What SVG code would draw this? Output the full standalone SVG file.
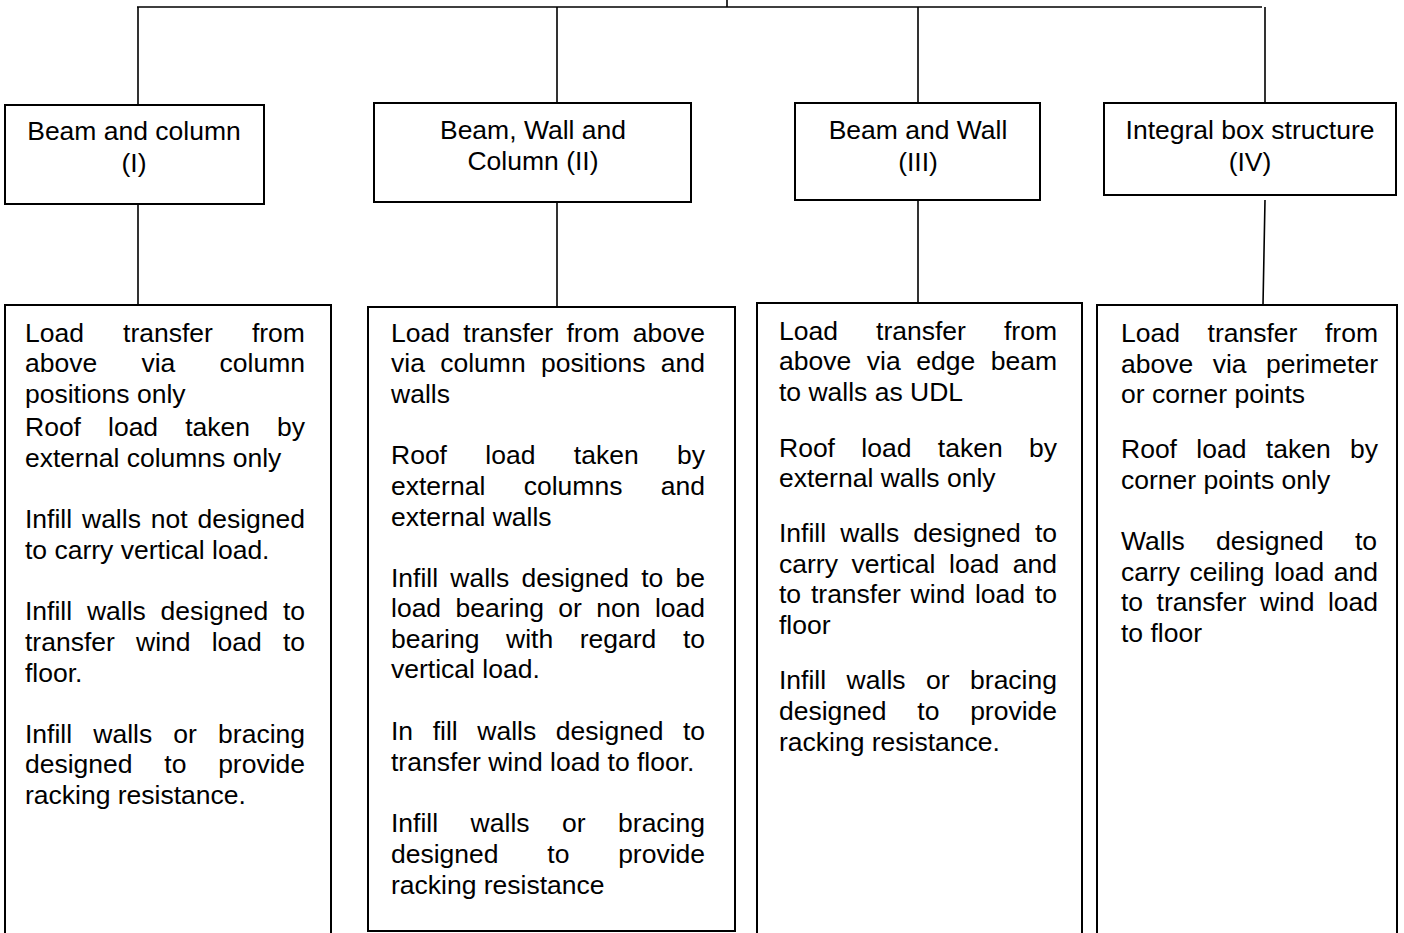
<svg xmlns="http://www.w3.org/2000/svg" width="1404" height="933" viewBox="0 0 1404 933">
<style>
.bg{fill:#fff}
.box{fill:#fff;stroke:#000;stroke-width:2}
.ln{fill:none;stroke:#000;stroke-width:1.6}
text{font-family:"Liberation Sans",Arial,sans-serif;font-size:26.5px;fill:#000}
.h{text-anchor:middle}
</style>
<rect class="bg" x="0" y="0" width="1404" height="933"/>
<g id="connectors">
<path class="ln" d="M137 7H1262M727 0V7M138 7V105M557 7V103M918 7V103M1265 7V103"/>
<path class="ln" d="M138 204V305M557 202V307M918 200V303M1265 200L1263 305"/>
</g>
<g id="type1">
<rect class="box" x="5" y="105" width="259" height="99"/>
<text class="h" x="134" y="140">Beam and column</text>
<text class="h" x="134" y="172">(I)</text>
</g>
<g id="type2">
<rect class="box" x="374" y="103" width="317" height="99"/>
<text class="h" x="533" y="139">Beam, Wall and</text>
<text class="h" x="533" y="170">Column (II)</text>
</g>
<g id="type3">
<rect class="box" x="795" y="103" width="245" height="97"/>
<text class="h" x="918" y="139">Beam and Wall</text>
<text class="h" x="918" y="171">(III)</text>
</g>
<g id="type4">
<rect class="box" x="1104" y="103" width="292" height="92"/>
<text class="h" x="1250" y="139">Integral box structure</text>
<text class="h" x="1250" y="171">(IV)</text>
</g>
<g id="desc1">
<rect class="box" x="5" y="305" width="326" height="640"/>
<text x="25" y="342" word-spacing="31.7">Load transfer from</text>
<text x="25" y="372" word-spacing="36.9">above via column</text>
<text x="25" y="403">positions only</text>
<text x="25" y="436" word-spacing="19.67">Roof load taken by</text>
<text x="25" y="467">external columns only</text>
<text x="25" y="528" word-spacing="2.5">Infill walls not designed</text>
<text x="25" y="559">to carry vertical load.</text>
<text x="25" y="620" word-spacing="7.41">Infill walls designed to</text>
<text x="25" y="651" word-spacing="13.8">transfer wind load to</text>
<text x="25" y="682">floor.</text>
<text x="25" y="743" word-spacing="13.8">Infill walls or bracing</text>
<text x="25" y="773" word-spacing="24.37">designed to provide</text>
<text x="25" y="804">racking resistance.</text>
</g>
<g id="desc2">
<rect class="box" x="368" y="307" width="367" height="624"/>
<text x="391" y="342" word-spacing="5.97">Load transfer from above</text>
<text x="391" y="372" word-spacing="7.96">via column positions and</text>
<text x="391" y="403">walls</text>
<text x="391" y="464" word-spacing="31">Roof load taken by</text>
<text x="391" y="495" word-spacing="31.07">external columns and</text>
<text x="391" y="526">external walls</text>
<text x="391" y="587" word-spacing="4.85">Infill walls designed to be</text>
<text x="391" y="617" word-spacing="7.05">load bearing or non load</text>
<text x="391" y="648" word-spacing="19.23">bearing with regard to</text>
<text x="391" y="678">vertical load.</text>
<text x="391" y="740" word-spacing="12.23">In fill walls designed to</text>
<text x="391" y="771">transfer wind load to floor.</text>
<text x="391" y="832" word-spacing="25.13">Infill walls or bracing</text>
<text x="391" y="863" word-spacing="41.37">designed to provide</text>
<text x="391" y="894">racking resistance</text>
</g>
<g id="desc3">
<rect class="box" x="757" y="303" width="325" height="640"/>
<text x="779" y="340" word-spacing="30.73">Load transfer from</text>
<text x="779" y="370" word-spacing="8.2">above via edge beam</text>
<text x="779" y="401">to walls as UDL</text>
<text x="779" y="457" word-spacing="19">Roof load taken by</text>
<text x="779" y="487">external walls only</text>
<text x="779" y="542" word-spacing="6.76">Infill walls designed to</text>
<text x="779" y="573" word-spacing="6.26">carry vertical load and</text>
<text x="779" y="603" word-spacing="2.48">to transfer wind load to</text>
<text x="779" y="634">floor</text>
<text x="779" y="689" word-spacing="13.13">Infill walls or bracing</text>
<text x="779" y="720" word-spacing="23.37">designed to provide</text>
<text x="779" y="751">racking resistance.</text>
</g>
<g id="desc4">
<rect class="box" x="1097" y="305" width="300" height="640"/>
<text x="1121" y="342" word-spacing="20.23">Load transfer from</text>
<text x="1121" y="373" word-spacing="12.13">above via perimeter</text>
<text x="1121" y="403">or corner points</text>
<text x="1121" y="458" word-spacing="12">Roof load taken by</text>
<text x="1121" y="489">corner points only</text>
<text x="1121" y="550" word-spacing="23.93">Walls designed to</text>
<text x="1121" y="581" word-spacing="2.2">carry ceiling load and</text>
<text x="1121" y="611" word-spacing="6.13">to transfer wind load</text>
<text x="1121" y="642">to floor</text>
</g>
</svg>
